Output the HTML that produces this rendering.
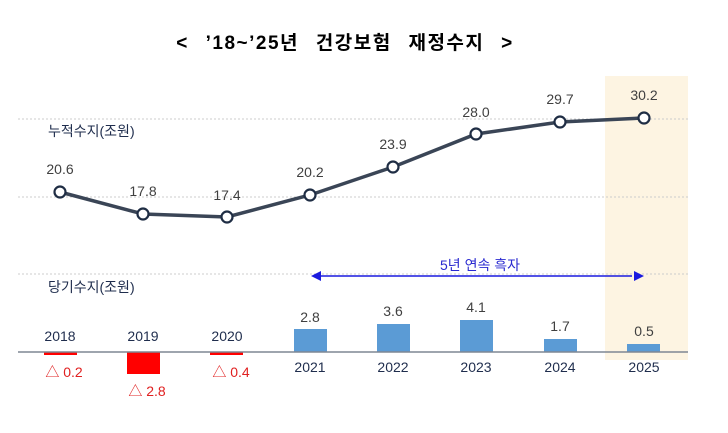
<!DOCTYPE html>
<html><head><meta charset="utf-8"><style>
body{margin:0;background:#fff;}
svg{display:block;font-family:"Liberation Sans","Noto Sans CJK KR",sans-serif;}
</style></head><body>
<svg width="728" height="433" viewBox="0 0 728 433">
<rect x="605" y="76" width="83" height="284" fill="#fdf4e2"/>
<text x="345" y="49" text-anchor="middle" font-size="19" font-weight="bold" fill="#000" letter-spacing="1.5" word-spacing="10">&lt; ’18~’25년 건강보험 재정수지 &gt;</text>
<g stroke="#ccc" stroke-dasharray="2,2" stroke-width="1">
<line x1="18" y1="119" x2="688" y2="119"/><line x1="18" y1="197" x2="688" y2="197"/><line x1="18" y1="274" x2="688" y2="274"/>
</g>
<text x="48" y="136" font-size="14" fill="#1f2d4d">누적수지(조원)</text>
<text x="48" y="292" font-size="14" fill="#1f2d4d">당기수지(조원)</text>
<polyline points="60,192 143,214 227,217 310,195 393,167 476,134 560,122 644,118" fill="none" stroke="#3a4556" stroke-width="3.5"/>
<g fill="#fff" stroke="#1f2d44" stroke-width="2.2">
<circle cx="60" cy="192" r="5.5"/><circle cx="143" cy="214" r="5.5"/><circle cx="227" cy="217" r="5.5"/><circle cx="310" cy="195" r="5.5"/><circle cx="393" cy="167" r="5.5"/><circle cx="476" cy="134" r="5.5"/><circle cx="560" cy="122" r="5.5"/><circle cx="644" cy="118" r="5.5"/>
</g>
<g font-size="14" fill="#404040" text-anchor="middle">
<text x="60" y="174">20.6</text><text x="143" y="196">17.8</text><text x="227" y="200">17.4</text><text x="310" y="177">20.2</text><text x="393" y="149">23.9</text><text x="476" y="117">28.0</text><text x="560" y="104">29.7</text><text x="644" y="100">30.2</text>
</g>
<line x1="318" y1="276" x2="632" y2="276" stroke="#1a1adf" stroke-width="1.5"/>
<polygon points="311,276 321,271 321,281" fill="#1a1adf"/>
<polygon points="644,276 634,271 634,281" fill="#1a1adf"/>
<text x="480" y="270" font-size="14" fill="#2a2ad0" text-anchor="middle">5년 연속 흑자</text>
<g fill="#f00">
<rect x="44" y="352" width="33" height="3"/><rect x="127" y="352" width="33" height="22"/><rect x="210" y="352" width="33" height="3"/>
</g>
<g fill="#5b9bd5">
<rect x="294" y="329" width="33" height="23"/><rect x="377" y="324" width="33" height="28"/><rect x="460" y="320" width="33" height="32"/><rect x="544" y="339" width="33" height="13"/><rect x="627" y="344" width="33" height="8"/>
</g>
<line x1="18" y1="352" x2="688" y2="352" stroke="#7f8793" stroke-width="1.5"/>
<g font-size="14" fill="#1f2d4d" text-anchor="middle">
<text x="60" y="341">2018</text><text x="143" y="341">2019</text><text x="227" y="341">2020</text>
<text x="310" y="372">2021</text><text x="393" y="372">2022</text><text x="476" y="372">2023</text><text x="560" y="372">2024</text><text x="644" y="372">2025</text>
</g>
<g font-size="14" fill="#404040" text-anchor="middle">
<text x="310" y="322">2.8</text><text x="393" y="316">3.6</text><text x="476" y="312">4.1</text><text x="560" y="331">1.7</text><text x="644" y="336">0.5</text>
</g>
<g font-size="14" fill="#e02020" text-anchor="middle">
<text x="64" y="377">△ 0.2</text><text x="147" y="396">△ 2.8</text><text x="231" y="377">△ 0.4</text>
</g>
</svg>
</body></html>
